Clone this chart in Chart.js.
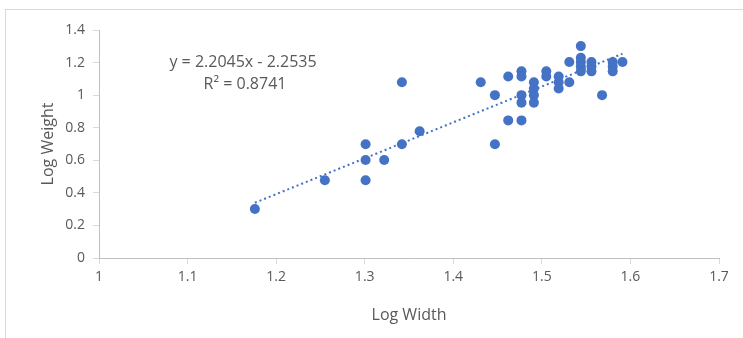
<!DOCTYPE html>
<html>
<head>
<meta charset="utf-8">
<script src="https://cdn.jsdelivr.net/npm/chart.js@4/dist/chart.umd.min.js"></script>
<style>
  html,body{margin:0;padding:0;background:#fff;}
  #wrap{position:relative;width:743px;height:338px;}
  #frame{position:absolute;left:5px;top:9px;width:740px;height:340px;border:1px solid #d9d9d9;box-sizing:border-box;}
  canvas{position:absolute;left:0;top:0;}
</style>
</head>
<body>
<div id="wrap">
  <div id="frame"></div>
  <canvas id="c" width="743" height="338"></canvas>
</div>
<script>
const logWidth  = [1.176,1.255,1.301,1.301,1.301,1.322,1.342,1.342,1.362,1.431,1.447,1.447,1.462,1.462,
                   1.477,1.477,1.477,1.477,1.477,1.491,1.491,1.491,1.491,1.505,1.505,1.519,1.519,1.519,
                   1.531,1.531,1.544,1.544,1.544,1.544,1.544,1.556,1.556,1.556,1.568,1.580,1.580,1.580,1.591];
const logWeight = [0.301,0.477,0.699,0.602,0.477,0.602,1.079,0.699,0.778,1.079,1.000,0.699,1.114,0.845,
                   1.146,1.114,1.000,0.954,0.845,1.079,1.041,1.000,0.954,1.146,1.114,1.114,1.079,1.041,
                   1.204,1.079,1.301,1.230,1.204,1.176,1.146,1.204,1.176,1.146,1.000,1.204,1.176,1.146,1.204];
const slope = 2.2045, intercept = -2.2535, r2 = 0.8741;
const xTicks = [1,1.1,1.2,1.3,1.4,1.5,1.6,1.7];
const yTicks = [0,0.2,0.4,0.6,0.8,1,1.2,1.4];

const pts = logWidth.map((x,i)=>({x:x,y:logWeight[i]}));
const xMin = Math.min(...logWidth), xMax = Math.max(...logWidth);
const trend = [{x:xMin,y:slope*xMin+intercept},{x:xMax,y:slope*xMax+intercept}];

const FONT = "'Open Sans', 'Liberation Sans', sans-serif";
const TXT = '#595959';

const eqPlugin = {
  id:'eq',
  afterDraw(chart){
    const ctx = chart.ctx;
    ctx.save();
    ctx.fillStyle = TXT;
    ctx.font = "16px " + FONT;
    ctx.textAlign = 'center';
    ctx.textBaseline = 'middle';
    ctx.fillText('y = ' + slope + 'x - ' + Math.abs(intercept), 243, 62);
    ctx.fillText('R² = ' + r2, 245, 84);
    ctx.restore();
  }
};

new Chart(document.getElementById('c'), {
  type:'scatter',
  data:{datasets:[
    {label:'trend', type:'line', data:trend, borderColor:'#4472C4', borderWidth:2, borderDash:[2,3],
     pointRadius:0, fill:false, order:2},
    {label:'data', data:pts, backgroundColor:'#4472C4', borderColor:'#4472C4', pointRadius:5,
     pointBorderWidth:0, order:1}
  ]},
  options:{
    responsive:false, animation:false, devicePixelRatio:1,
    layout:{padding:{top:30,right:24,left:0,bottom:0}},
    plugins:{legend:{display:false},tooltip:{enabled:false}},
    scales:{
      x:{type:'linear', min:1, max:1.7,
        afterBuildTicks(s){ s.ticks = xTicks.map(v=>({value:v})); },
        afterFit(s){ s.height = 80; },
        grid:{drawOnChartArea:false, drawTicks:true, tickLength:6, color:'#d9d9d9'},
        border:{color:'#bfbfbf', width:1},
        ticks:{color:TXT, font:{family:FONT,size:14}, padding:5, maxRotation:0,
          callback:v=>String(v)},
        title:{display:true, text:'Log Width', color:TXT, font:{family:FONT,size:16}, padding:{top:2,bottom:13}}
      },
      y:{type:'linear', min:0, max:1.4,
        afterBuildTicks(s){ s.ticks = yTicks.map(v=>({value:v})); },
        afterFit(s){ s.width = 99; },
        grid:{drawOnChartArea:false, drawTicks:true, tickLength:6, color:'#d9d9d9'},
        border:{color:'#bfbfbf', width:1},
        ticks:{color:TXT, font:{family:FONT,size:14}, padding:8, callback:v=>String(v)},
        title:{display:true, text:'Log Weight', color:TXT, font:{family:FONT,size:16}, padding:{top:39,bottom:0}}
      }
    }
  },
  plugins:[eqPlugin]
});
</script>
</body>
</html>
